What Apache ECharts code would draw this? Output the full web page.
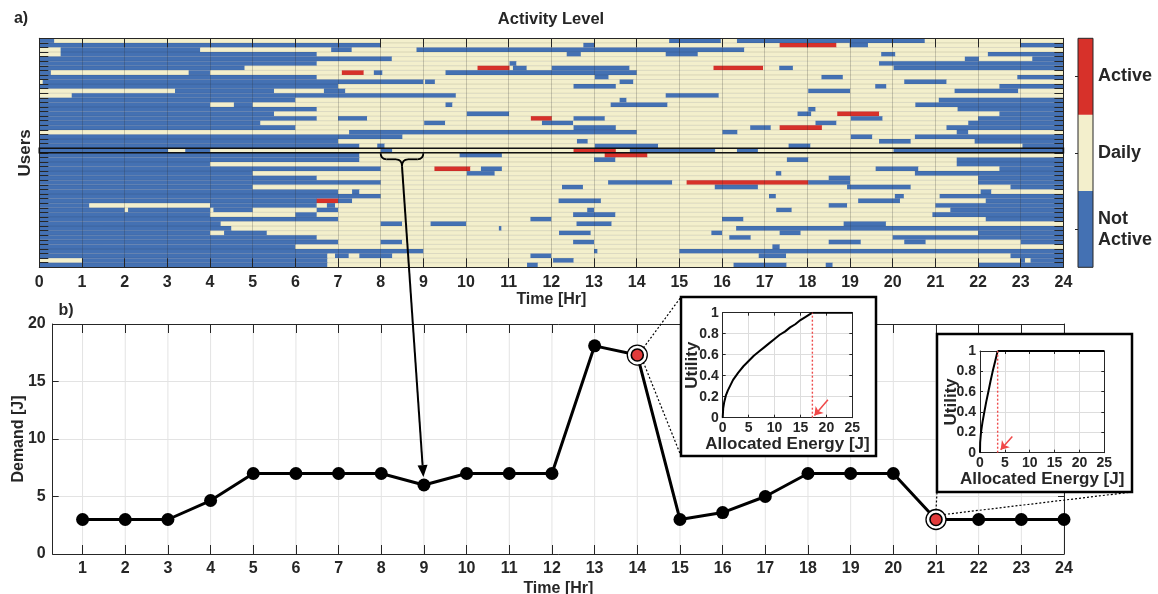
<!DOCTYPE html>
<html>
<head>
<meta charset="utf-8">
<script src="https://cdn.jsdelivr.net/npm/echarts@6/dist/echarts.min.js"></script>
<style>
html, body { margin: 0; padding: 0; background: #fff; }
#chart { width: 1158px; height: 594px; }
</style>
</head>
<body>
<div id="chart"></div>
<script>
// ---------- data ----------
const hourTicks = [0,1,2,3,4,5,6,7,8,9,10,11,12,13,14,15,16,17,18,19,20,21,22,23,24];
const userCount = 50;
const levelNames = ['Not\nActive', 'Daily', 'Active'];
const levelColors = ['#4471b3', '#f3efcc', '#d7312a'];

// Not active periods: [user, start hour, end hour]
const notActiveSpans = [
  [0,0,0.35],[0,14.76,15.97],[0,16.35,20.75],
  [1,0,8.0],[1,12.75,13.0],[1,18.99,19.42],[1,23.0,24],
  [2,0.5,3.77],[2,6.84,7.32],[2,8.84,16.52],
  [3,0.5,6.5],[3,12.36,12.69],[3,14.68,15.43],[3,19.73,20.06],[3,22.23,24],
  [4,0,8.26],[4,21.69,22.02],[4,23.27,24],
  [5,0,6.5],[5,11.02,11.18],[5,19.68,24],
  [6,0,4.81],[6,11.1,11.42],[6,12.01,13.83],[6,17.34,17.66],[6,20.02,24],
  [7,0,0.27],[7,3.5,4.0],[7,7.84,8.04],[7,9.52,14.0],
  [8,0,6.5],[8,13.02,13.34],[8,18.33,18.83],[8,22.92,24],
  [9,0.08,9.0],[9,9.04,9.27],[9,13.6,13.92],[9,20.27,21.26],
  [10,0,7.0],[10,12.52,13.51],[10,19.59,19.85],[10,22.5,24],
  [11,3.18,5.5],[11,6.67,7.17],[11,18.02,19.0],[11,21.45,22.94],
  [12,0.76,9.76],[12,14.68,15.92],
  [13,0,6.0],[13,13.6,13.76],[13,21.08,24],
  [14,0,4.0],[14,4.56,5.0],[14,9.52,9.68],[14,13.39,14.72],[14,20.53,24],
  [15,0,6.5],[15,18.02,18.19],[15,21.52,24],
  [16,0,5.5],[16,10.02,11.01],[16,17.77,18.09],[16,22.5,24],
  [17,0,6.5],[17,7.0,7.68],[17,12.52,13.25],[17,19.02,19.76],[17,22.0,24],
  [18,0,5.18],[18,9.02,9.51],[18,11.78,12.51],[18,18.19,18.68],[18,21.77,24],
  [19,0,6.0],[19,12.52,13.51],[19,16.66,17.14],[19,21.26,24],
  [20,7.26,14.0],[20,16.01,16.36],[20,21.5,21.77],
  [21,0,8.51],[21,19.02,19.52],[21,20.52,24],
  [22,0,7.0],[22,12.6,12.85],[22,19.68,20.42],[22,21.92,24],
  [23,0,7.5],[23,7.92,8.09],[23,13.02,14.5],[23,17.56,18.07],[23,23.04,24],
  [24,0,3.02],[24,3.42,4.0],[24,8.0,8.27],[24,13.84,15.84],[24,16.35,16.84],[24,20.02,24],
  [25,0,7.5],[25,9.85,10.84],
  [26,0,7.5],[26,13.0,13.5],[26,17.52,18.02],[26,21.5,24],
  [27,0,4.0],[27,21.5,24],
  [28,0,8.0],[28,10.35,10.84],[28,19.6,20.6],[28,22.5,24],
  [29,0,5.0],[29,10.02,10.67],[29,17.26,17.39],[29,20.52,24],
  [30,0,6.5],[30,18.5,19.0],[30,22.0,24],
  [31,0,8.0],[31,13.33,14.83],[31,18.02,19.0],[31,22.0,24],
  [32,0,5.0],[32,12.25,12.74],[32,15.83,16.84],[32,18.93,20.42],[32,22.76,24],
  [33,0,7.0],[33,7.33,7.5],[33,22.06,22.31],
  [34,0,8.0],[34,17.1,17.26],[34,20.05,20.26],[34,21.1,24],
  [35,0,6.5],[35,7.0,7.33],[35,12.17,13.16],[35,19.19,20.17],[35,22.18,24],
  [36,0,1.17],[36,4.0,6.5],[36,6.74,6.93],[36,18.5,18.93],[36,21.0,24],
  [37,0,2.0],[37,2.08,4.0],[37,4.08,5.0],[37,6.5,7.0],[37,12.84,13.0],[37,17.27,17.63],[37,21.35,24],
  [38,0,4.0],[38,6.0,6.5],[38,12.51,13.5],[38,20.93,24],
  [39,0,7.0],[39,11.51,12.0],[39,16.0,16.5],[39,22.18,24],
  [40,0,4.25],[40,8.0,8.5],[40,9.17,10.0],[40,12.59,13.41],[40,18.85,19.84],
  [41,0,4.5],[41,10.77,10.83],[41,16.33,24],
  [42,0,4.0],[42,4.33,5.33],[42,12.18,12.92],[42,15.75,16.0],[42,17.35,17.84],[42,22.0,24],
  [43,0,6.5],[43,16.17,16.67],[43,20.0,24],
  [44,0,7.0],[44,8.0,8.5],[44,12.51,13.0],[44,18.5,19.25],[44,20.27,20.77],[44,23.0,24],
  [45,0,6.0],[45,17.18,17.35],
  [46,0,9.0],[46,13.0,13.08],[46,15.0,24],
  [47,0,6.75],[47,6.93,7.25],[47,7.5,8.27],[47,11.51,12.0],[47,16.86,17.5],[47,22.76,24],
  [48,1.0,6.75],[48,12.04,12.52],[48,23.0,23.1],[48,23.23,24],
  [49,0,6.75],[49,11.43,11.68],[49,16.27,17.51],[49,18.43,18.59],[49,22.0,24]
];

// Active periods: [user, start hour, end hour]
const activeSpans = [
  [1,17.35,18.68],
  [6,10.27,11.02],[6,15.8,16.96],
  [7,7.09,7.6],
  [16,18.7,19.68],
  [17,11.52,12.01],
  [19,17.35,18.34],
  [24,12.52,13.51],
  [25,13.25,14.25],
  [28,9.26,10.1],
  [31,15.17,18.02],
  [35,6.5,7.0]
];

const highlightUser = 24;
const linkedHour = 9;

// Hourly energy demand
const demandHours = [1,2,3,4,5,6,7,8,9,10,11,12,13,14,15,16,17,18,19,20,21,22,23,24];
const demandValues = [3,3,3,4.65,7,7,7,7,6,7,7,7,18.1,17.3,3,3.6,5,7,7,7,3,3,3,3];
const markedHours = [14, 21];

// Utility curves for the two marked hours
const energyA = [0, 0.1, 0.3, 0.6, 1, 1.5, 2, 3, 4, 5, 6, 7, 8, 9, 10, 11, 12, 13, 14, 15, 16, 17.3];
const utilityA = [0, 0.09, 0.15, 0.21, 0.26, 0.31, 0.36, 0.43, 0.49, 0.54, 0.59, 0.63, 0.67, 0.71, 0.75, 0.79, 0.82, 0.86, 0.89, 0.93, 0.96, 1];
const allocA = 17.3;
const energyB = [0, 0.03, 0.2, 0.5, 0.87, 1.25, 1.68, 2.1, 2.55, 3.05, 3.55];
const utilityB = [0, 0.1, 0.2, 0.3, 0.4, 0.5, 0.6, 0.7, 0.8, 0.9, 1];
const allocB = 3.55;
const energyMax = 25;

// ---------- helpers ----------
const FONT = "'Liberation Sans', Arial, Helvetica, sans-serif";
const INK = '#262626';

function buildCells() {
  const cells = [];
  for (let u = 0; u < userCount; u++) {
    const spans = [];
    notActiveSpans.forEach(s => { if (s[0] === u) spans.push([s[1], s[2], 0]); });
    activeSpans.forEach(s => { if (s[0] === u) spans.push([s[1], s[2], 2]); });
    spans.sort((a, b) => a[0] - b[0]);
    let t = 0;
    spans.forEach(s => {
      if (s[0] > t) cells.push([t, s[0], u, 1]);
      cells.push([s[0], s[1], u, s[2]]);
      t = Math.max(t, s[1]);
    });
    if (t < 24) cells.push([t, 24, u, 1]);
  }
  return cells;
}

function boxAxis(gridIndex, position, opts) {
  const tickLen = opts.tickLen || 8;
  const ax = {
    gridIndex: gridIndex,
    type: 'value',
    position: position,
    min: opts.min, max: opts.max,
    z: opts.z || 2,
    axisLine: { show: true, onZero: false, lineStyle: { color: INK, width: opts.lineWidth || 1 } },
    axisTick: { show: true, inside: true, length: tickLen, lineStyle: { color: INK, width: 1 } },
    axisLabel: { show: false },
    splitLine: { show: false }
  };
  if (opts.interval !== undefined) ax.interval = opts.interval;
  if (opts.inverse) ax.inverse = true;
  if (opts.customTicks) ax.axisTick.customValues = opts.customTicks;
  if (opts.labels) {
    ax.axisLabel = Object.assign({ show: true, color: INK, fontWeight: 'bold', fontFamily: FONT }, opts.labels);
  }
  if (opts.split) ax.splitLine = { show: true, lineStyle: { color: opts.split, width: 1 } };
  if (opts.name) {
    ax.name = opts.name;
    ax.nameLocation = 'middle';
    ax.nameGap = opts.nameGap;
    ax.nameTextStyle = { color: INK, fontWeight: 'bold', fontFamily: FONT, fontSize: opts.nameSize || 15 };
    if (opts.fixedName) ax.nameMoveOverlap = false;
  }
  return ax;
}

function fixedGrid(left, top, width, height) {
  return { left: left, top: top, width: width, height: height, containLabel: false, outerBoundsMode: 'none' };
}

const tidy = v => String(Math.round(v * 10) / 10);

// ---------- chart ----------
const chart = echarts.init(document.getElementById('chart'), null, { renderer: 'canvas' });

const option = {
  animation: false,
  backgroundColor: '#ffffff',
  textStyle: { fontFamily: FONT, fontWeight: 'bold', color: INK },
  grid: [
    fixedGrid(39.3, 38.3, 1024.1, 229),
    fixedGrid(1078, 38.3, 15, 229),
    fixedGrid(52.7, 324, 1011.3, 230),
    fixedGrid(722.7, 312.7, 129.6, 105),
    fixedGrid(980, 351, 124.3, 101.7)
  ],
  xAxis: [
    boxAxis(0, 'bottom', { min: 0, max: 24, interval: 1, tickLen: 9, z: 2,
      labels: { fontSize: 16, margin: 7 }, split: 'rgba(40,40,40,0.22)',
      name: 'Time [Hr]', nameGap: 23, nameSize: 16 }),
    boxAxis(0, 'top', { min: 0, max: 24, interval: 1, tickLen: 9, z: 2 }),
    { gridIndex: 1, type: 'value', min: 0, max: 1, show: false },
    boxAxis(2, 'bottom', { min: 0.3, max: 24, tickLen: 9, customTicks: demandHours,
      labels: { fontSize: 16, margin: 7, customValues: demandHours },
      name: 'Time [Hr]', nameGap: 27, nameSize: 16 }),
    boxAxis(2, 'top', { min: 0.3, max: 24, tickLen: 9, customTicks: demandHours }),
    boxAxis(3, 'bottom', { min: 0, max: energyMax, interval: 5, tickLen: 3, z: 7,
      labels: { fontSize: 14, margin: 3 }, split: '#dddddd',
      name: 'Allocated Energy [J]', nameGap: 15, nameSize: 17 }),
    boxAxis(3, 'top', { min: 0, max: energyMax, interval: 5, tickLen: 3, z: 7 }),
    boxAxis(4, 'bottom', { min: 0, max: energyMax, interval: 5, tickLen: 3, z: 7,
      labels: { fontSize: 14, margin: 3 }, split: '#dddddd',
      name: 'Allocated Energy [J]', nameGap: 16, nameSize: 17 }),
    boxAxis(4, 'top', { min: 0, max: energyMax, interval: 5, tickLen: 3, z: 7 })
  ],
  yAxis: [
    boxAxis(0, 'left', { min: 0, max: userCount, interval: 1, inverse: true, tickLen: 9, z: 2,
      name: 'Users', nameGap: 5, nameSize: 17 }),
    boxAxis(0, 'right', { min: 0, max: userCount, interval: 1, inverse: true, tickLen: 9, z: 2 }),
    {
      gridIndex: 1, type: 'category', data: levelNames, position: 'right', z: 3,
      axisLine: { show: false },
      axisTick: { show: true, inside: true, length: 3, alignWithLabel: true, lineStyle: { color: INK } },
      axisLabel: { color: INK, fontWeight: 'bold', fontFamily: FONT, fontSize: 18, margin: 5, lineHeight: 21, align: 'left' }
    },
    boxAxis(2, 'left', { min: 0, max: 20, interval: 5, tickLen: 6,
      labels: { fontSize: 16, margin: 7 }, split: '#e3e3e3',
      name: 'Demand [J]', nameGap: 26, nameSize: 16, fixedName: true }),
    boxAxis(2, 'right', { min: 0, max: 20, interval: 5, tickLen: 6 }),
    boxAxis(3, 'left', { min: 0, max: 1, interval: 0.2, tickLen: 3, z: 7,
      labels: { fontSize: 14, margin: 4, formatter: tidy }, split: '#dddddd',
      name: 'Utility', nameGap: 22, nameSize: 17, fixedName: true }),
    boxAxis(3, 'right', { min: 0, max: 1, interval: 0.2, tickLen: 3, z: 7 }),
    boxAxis(4, 'left', { min: 0, max: 1, interval: 0.2, tickLen: 3, z: 7,
      labels: { fontSize: 14, margin: 4, formatter: tidy }, split: '#dddddd',
      name: 'Utility', nameGap: 20, nameSize: 17, fixedName: true }),
    boxAxis(4, 'right', { min: 0, max: 1, interval: 0.2, tickLen: 3, z: 7 })
  ],
  series: [
    // activity cells
    {
      type: 'custom', xAxisIndex: 0, yAxisIndex: 0, z: 1,
      data: buildCells(),
      encode: { x: [0, 1], y: 2 },
      renderItem: function (params, api) {
        const a = api.coord([api.value(0), api.value(2)]);
        const b = api.coord([api.value(1), api.value(2) + 1]);
        return {
          type: 'rect',
          shape: { x: a[0], y: Math.min(a[1], b[1]), width: b[0] - a[0] + 0.4, height: Math.abs(b[1] - a[1]) },
          style: { fill: levelColors[api.value(3)] }
        };
      }
    },
    // thin separators between users
    {
      type: 'custom', xAxisIndex: 0, yAxisIndex: 0, z: 1,
      data: Array.from({ length: userCount - 1 }, (_, i) => [0, i + 1]),
      encode: { x: 0, y: 1 },
      renderItem: function (params, api) {
        const a = api.coord([0, api.value(1)]);
        const b = api.coord([24, api.value(1)]);
        return { type: 'line', shape: { x1: a[0], y1: a[1], x2: b[0], y2: b[1] },
          style: { stroke: 'rgba(0,0,0,0.11)', lineWidth: 1 } };
      }
    },
    // highlighted user row
    {
      type: 'custom', xAxisIndex: 0, yAxisIndex: 0, z: 3,
      data: [[0, 24, highlightUser]],
      encode: { x: [0, 1], y: 2 },
      renderItem: function (params, api) {
        const a = api.coord([api.value(0), api.value(2)]);
        const b = api.coord([api.value(1), api.value(2) + 1]);
        return { type: 'rect',
          shape: { x: a[0], y: Math.min(a[1], b[1]), width: b[0] - a[0], height: Math.abs(b[1] - a[1]) },
          style: { fill: null, stroke: '#111', lineWidth: 1.6 } };
      }
    },
    // colour bar
    {
      type: 'bar', xAxisIndex: 2, yAxisIndex: 2, z: 2,
      barWidth: '100%', barCategoryGap: 0,
      data: levelColors.map(c => ({ value: 1, itemStyle: { color: c } })),
      silent: true
    },
    // vertical hour grid of the demand panel
    {
      type: 'custom', xAxisIndex: 3, yAxisIndex: 3, z: 1,
      data: demandHours.map(h => [h, 0]),
      encode: { x: 0, y: 1 },
      renderItem: function (params, api) {
        const p = api.coord([api.value(0), 0]);
        const cs = params.coordSys;
        return { type: 'line', shape: { x1: p[0], y1: cs.y, x2: p[0], y2: cs.y + cs.height },
          style: { stroke: '#e3e3e3', lineWidth: 1 } };
      }
    },
    // demand
    {
      type: 'line', xAxisIndex: 3, yAxisIndex: 3, z: 3, clip: false,
      data: demandHours.map((h, i) => [h, demandValues[i]]),
      symbol: 'circle', symbolSize: 13,
      lineStyle: { color: '#000', width: 3 },
      itemStyle: { color: '#000' }
    },
    {
      type: 'scatter', xAxisIndex: 3, yAxisIndex: 3, z: 4,
      data: markedHours.map(h => [h, demandValues[h - 1]]),
      symbol: 'circle', symbolSize: 20,
      itemStyle: { color: '#ffffff', borderColor: '#000', borderWidth: 1.3, opacity: 1 }
    },
    {
      type: 'scatter', xAxisIndex: 3, yAxisIndex: 3, z: 5,
      data: markedHours.map(h => [h, demandValues[h - 1]]),
      symbol: 'circle', symbolSize: 12,
      itemStyle: { color: '#e23b3b', borderColor: '#000', borderWidth: 1.6, opacity: 1 }
    },
    // utility curve, hour 14
    {
      type: 'line', xAxisIndex: 5, yAxisIndex: 5, z: 8,
      data: energyA.map((e, i) => [e, utilityA[i]]), symbol: 'none',
      lineStyle: { color: '#000', width: 2 }
    },
    {
      type: 'line', xAxisIndex: 5, yAxisIndex: 5, z: 8,
      data: [[allocA, 1], [energyMax, 1]], symbol: 'none',
      lineStyle: { color: '#000', width: 2 }
    },
    {
      type: 'line', xAxisIndex: 5, yAxisIndex: 5, z: 8,
      data: [[allocA, 0], [allocA, 1]], symbol: 'none',
      lineStyle: { color: '#ee4b4b', width: 1.4, type: [2, 2] }
    },
    {
      type: 'lines', coordinateSystem: 'cartesian2d', xAxisIndex: 5, yAxisIndex: 5, z: 8,
      symbol: ['none', 'arrow'], symbolSize: 8,
      lineStyle: { color: '#f04848', width: 1.5, opacity: 1, curveness: 0 },
      data: [{ coords: [[allocA + 3.0, 0.17], [allocA + 0.4, 0.02]] }]
    },
    // utility curve, hour 21
    {
      type: 'line', xAxisIndex: 7, yAxisIndex: 7, z: 8,
      data: energyB.map((e, i) => [e, utilityB[i]]), symbol: 'none',
      lineStyle: { color: '#000', width: 2 }
    },
    {
      type: 'line', xAxisIndex: 7, yAxisIndex: 7, z: 8,
      data: [[allocB, 1], [energyMax, 1]], symbol: 'none',
      lineStyle: { color: '#000', width: 2 }
    },
    {
      type: 'line', xAxisIndex: 7, yAxisIndex: 7, z: 8,
      data: [[allocB, 0], [allocB, 1]], symbol: 'none',
      lineStyle: { color: '#ee4b4b', width: 1.4, type: [2, 2] }
    },
    {
      type: 'lines', coordinateSystem: 'cartesian2d', xAxisIndex: 7, yAxisIndex: 7, z: 8,
      symbol: ['none', 'arrow'], symbolSize: 8,
      lineStyle: { color: '#f04848', width: 1.5, opacity: 1, curveness: 0 },
      data: [{ coords: [[allocB + 2.95, 0.16], [allocB + 0.6, 0.03]] }]
    }
  ]
};

chart.setOption(option);

// ---------- annotations ----------
function pix(xi, yi, pt) { return chart.convertToPixel({ xAxisIndex: xi, yAxisIndex: yi }, pt); }
function txt(x, y, text, size, align) {
  return { type: 'text', x: x, y: y, z: 20,
    style: { text: text, fill: INK, font: 'bold ' + size + 'px ' + FONT,
      align: align || 'center', verticalAlign: 'middle', textAlign: align || 'center', textVerticalAlign: 'middle' } };
}
function seg(x1, y1, x2, y2, style, z) {
  return { type: 'line', z: z, shape: { x1: x1, y1: y1, x2: x2, y2: y2 }, style: style };
}
function quad(x1, y1, cx, cy, x2, y2, style, z) {
  return { type: 'bezierCurve', z: z, shape: { x1: x1, y1: y1, cpx1: cx, cpy1: cy, x2: x2, y2: y2 }, style: style };
}

const graphics = [];
graphics.push(txt(21, 19, 'a)', 16, 'center'));
graphics.push(txt(551, 19, 'Activity Level', 16.5, 'center'));
graphics.push(txt(66, 311, 'b)', 16, 'center'));

// colour bar frame
graphics.push({ type: 'rect', z: 10, shape: { x: 1078, y: 38.3, width: 15, height: 229 },
  style: { fill: null, stroke: INK, lineWidth: 1 } });

// brace under the highlighted row, spanning the hour that feeds the linked demand point
const bl = pix(0, 0, [linkedHour - 1, highlightUser + 1]);
const br = pix(0, 0, [linkedHour, highlightUser + 1]);
const by = bl[1] + 0.5, bd = 6, bt = 13;
const bm = (bl[0] + br[0]) / 2;
const braceStyle = { stroke: '#000', lineWidth: 1.8, fill: null };
graphics.push(quad(bl[0], by, bl[0], by + bd, bl[0] + bd, by + bd, braceStyle, 15));
graphics.push(seg(bl[0] + bd, by + bd, bm - bd, by + bd, braceStyle, 15));
graphics.push(quad(bm - bd, by + bd, bm, by + bd, bm, by + bt, braceStyle, 15));
graphics.push(quad(bm, by + bt, bm, by + bd, bm + bd, by + bd, braceStyle, 15));
graphics.push(seg(bm + bd, by + bd, br[0] - bd, by + bd, braceStyle, 15));
graphics.push(quad(br[0] - bd, by + bd, br[0], by + bd, br[0], by, braceStyle, 15));

// arrow from the brace to the linked demand point
const target = pix(3, 3, [linkedHour, demandValues[linkedHour - 1]]);
const sx = bm, sy = by + bt;
let dx = target[0] - sx, dy = target[1] - sy;
const len = Math.sqrt(dx * dx + dy * dy); dx /= len; dy /= len;
const tipX = target[0] - dx * 8, tipY = target[1] - dy * 8;
const baseX = tipX - dx * 12, baseY = tipY - dy * 12;
graphics.push(seg(sx, sy, baseX, baseY, { stroke: '#000', lineWidth: 2 }, 15));
graphics.push({ type: 'polygon', z: 15,
  shape: { points: [[tipX, tipY], [baseX - dy * 5, baseY + dx * 5], [baseX + dy * 5, baseY - dx * 5]] },
  style: { fill: '#000' } });

// zoom-out frames for the two utility insets
const frameA = { x: 681, y: 297, width: 195, height: 159 };
const frameB = { x: 937, y: 334, width: 195, height: 158 };
const dotted = { stroke: '#000', lineWidth: 1.2, lineDash: [2, 2] };
const pA = pix(3, 3, [markedHours[0], demandValues[markedHours[0] - 1]]);
const pB = pix(3, 3, [markedHours[1], demandValues[markedHours[1] - 1]]);
graphics.push(seg(pA[0] + 6, pA[1] - 7, frameA.x, frameA.y, dotted, 5));
graphics.push(seg(pA[0] + 6, pA[1] + 7, frameA.x, frameA.y + frameA.height, dotted, 5));
graphics.push(seg(pB[0], pB[1] - 9, frameB.x, frameB.y + frameB.height, dotted, 5));
graphics.push(seg(pB[0] + 8, pB[1] - 5, frameB.x + frameB.width, frameB.y + frameB.height, dotted, 5));
[frameA, frameB].forEach(f => {
  graphics.push({ type: 'rect', z: 6, shape: f, style: { fill: '#fff', stroke: '#000', lineWidth: 2.5 } });
});

chart.setOption({ graphic: graphics });
</script>
</body>
</html>
